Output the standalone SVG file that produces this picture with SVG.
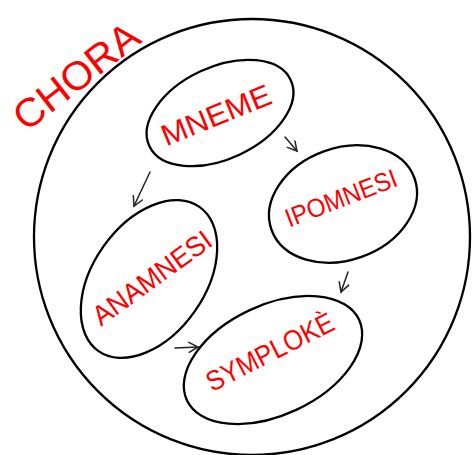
<svg xmlns="http://www.w3.org/2000/svg" width="473" height="455" viewBox="0 0 473 455">
<defs>
<style>
.shape{fill:none;stroke:#000;stroke-width:2.3}
.lbl{fill:#ff0000;font-family:"Liberation Sans",Arial,sans-serif;text-anchor:middle;dominant-baseline:central}
.conn{fill:none;stroke:#222;stroke-width:1.5;stroke-linecap:round}
</style>
<marker id="chev" viewBox="0 0 12 12" refX="10" refY="6" markerWidth="12" markerHeight="12" markerUnits="userSpaceOnUse" orient="auto">
<path d="M1,1 L10,6 L1,11" fill="none" stroke="#222" stroke-width="1.5" stroke-linecap="round"/>
</marker>
</defs>
<rect width="473" height="455" fill="#fff"/>
<g id="chora">
<circle class="shape" cx="252" cy="237" r="218"/>
<text class="lbl" x="76" y="76" font-size="40" textLength="148" lengthAdjust="spacingAndGlyphs" transform="rotate(-38 76 76)">CHORA</text>
</g>
<g id="mneme">
<ellipse class="shape" cx="220" cy="113" rx="78" ry="46" transform="rotate(-25 220 113)"/>
<text class="lbl" x="216" y="115" font-size="30" textLength="116" lengthAdjust="spacingAndGlyphs" transform="rotate(-22 216 115)">MNEME</text>
</g>
<g id="ipomnesi">
<ellipse class="shape" cx="343" cy="204" rx="76" ry="56" transform="rotate(-20 343 204)"/>
<text class="lbl" x="341" y="198" font-size="26" textLength="118" lengthAdjust="spacingAndGlyphs" transform="rotate(-21 341 198)">IPOMNESI</text>
</g>
<g id="anamnesi">
<ellipse class="shape" cx="149" cy="279" rx="88" ry="56" transform="rotate(-55 149 279)"/>
<text class="lbl" x="152" y="278" font-size="28" textLength="140" lengthAdjust="spacingAndGlyphs" transform="rotate(-36 152 278)">ANAMNESI</text>
</g>
<g id="symploke">
<ellipse class="shape" cx="273" cy="360" rx="95" ry="55" transform="rotate(-25 273 360)"/>
<text class="lbl" x="270" y="352" font-size="28" textLength="140" lengthAdjust="spacingAndGlyphs" transform="rotate(-27 270 352)">SYMPLOKÈ</text>
</g>
<g id="connectors">
<line class="conn" x1="150" y1="172" x2="134" y2="206" marker-end="url(#chev)"/>
<line class="conn" x1="285" y1="137" x2="297" y2="151" marker-end="url(#chev)"/>
<line class="conn" x1="348" y1="272" x2="341" y2="292" marker-end="url(#chev)"/>
<line class="conn" x1="175" y1="348" x2="198" y2="347" marker-end="url(#chev)"/>
</g>
</svg>
